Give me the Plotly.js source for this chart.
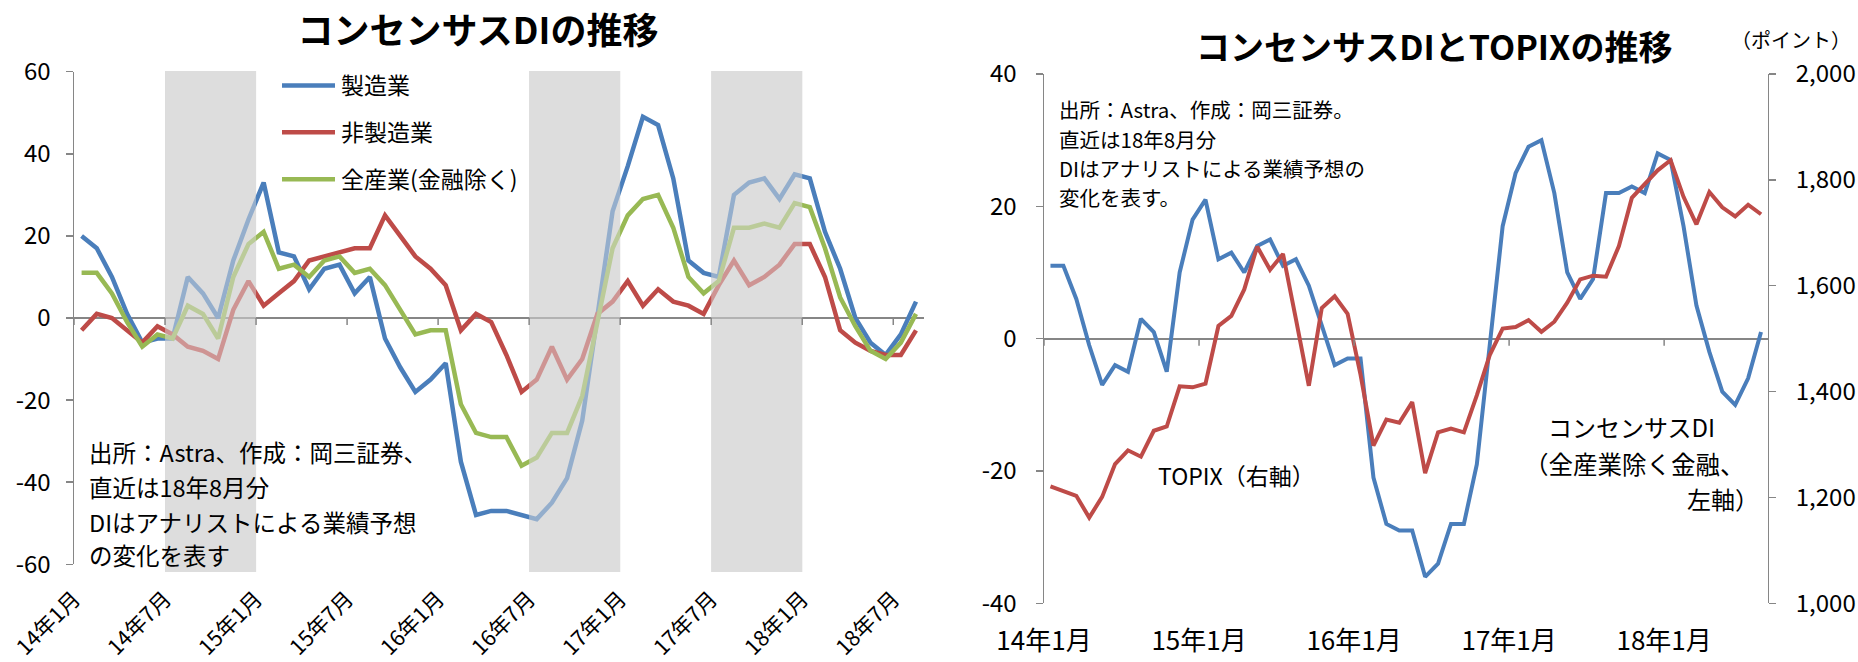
<!DOCTYPE html>
<html><head><meta charset="utf-8">
<script src="https://cdn.plot.ly/plotly-3.0.1.min.js"></script>
<style>html,body{margin:0;padding:0;background:#fff}#chart{width:1858px;height:662px}</style>
</head><body><div id="chart"></div>
<script>
// ---------- data ----------
const months = [
  '14年1月','14年2月','14年3月','14年4月','14年5月','14年6月','14年7月','14年8月','14年9月','14年10月','14年11月','14年12月',
  '15年1月','15年2月','15年3月','15年4月','15年5月','15年6月','15年7月','15年8月','15年9月','15年10月','15年11月','15年12月',
  '16年1月','16年2月','16年3月','16年4月','16年5月','16年6月','16年7月','16年8月','16年9月','16年10月','16年11月','16年12月',
  '17年1月','17年2月','17年3月','17年4月','17年5月','17年6月','17年7月','17年8月','17年9月','17年10月','17年11月','17年12月',
  '18年1月','18年2月','18年3月','18年4月','18年5月','18年6月','18年7月','18年8月'
];
const manufacturing = [
  20, 17, 10, 1, -6, -5, -5, 10, 6, 0, 14, 24,
  33, 16, 15, 7, 12, 13, 6, 10, -5, -12, -18, -15,
  -11, -35, -48, -47, -47, -48, -49, -45, -39, -25, 0, 26,
  37, 49, 47, 34, 14, 11, 10, 30, 33, 34, 29, 35,
  34, 21, 12, 0, -6, -9, -4, 4
];
const nonManufacturing = [
  -3, 1, 0, -3, -6, -2, -4, -7, -8, -10, 2, 9,
  3, 6, 9, 14, 15, 16, 17, 17, 25, 20, 15, 12,
  8, -3, 1, -1, -9, -18, -15, -7, -15, -10, 1, 4,
  9, 3, 7, 4, 3, 1, 8, 14, 8, 10, 13, 18,
  18, 10, -3, -6, -8, -9, -9, -3
];
const allIndustries = [
  11, 11, 6, -1, -7, -4, -5, 3, 1, -5, 10, 18,
  21, 12, 13, 10, 14, 15, 11, 12, 8, 2, -4, -3,
  -3, -21, -28, -29, -29, -36, -34, -28, -28, -19, -1, 17,
  25, 29, 30, 22, 10, 6, 9, 22, 22, 23, 22, 28,
  27, 17, 5, -2, -8, -10, -6, 1
];
const topix = [
  1221, 1212, 1203, 1162, 1201, 1263, 1289, 1277, 1326, 1334, 1410, 1408,
  1415, 1524, 1543, 1593, 1674, 1630, 1660, 1537, 1411, 1558, 1580, 1547,
  1432, 1298, 1347, 1341, 1380, 1246, 1323, 1330, 1323, 1393, 1469, 1519,
  1522, 1535, 1513, 1532, 1568, 1612, 1619, 1617, 1675, 1766, 1792, 1818,
  1837, 1768, 1716, 1777, 1748, 1731, 1753, 1735
];
const seriesNames = ['製造業', '非製造業', '全産業(金融除く)'];
const leftTickLabels = ['14年1月','14年7月','15年1月','15年7月','16年1月','16年7月','17年1月','17年7月','18年1月','18年7月'];
const rightTickLabels = ['14年1月','15年1月','16年1月','17年1月','18年1月'];
const leftYTicks = [-60, -40, -20, 0, 20, 40, 60];
const rightYTicks = [-40, -20, 0, 20, 40];
const topixTicks = [1000, 1200, 1400, 1600, 1800, 2000];
const shadedPeriods = [['14年7月','14年12月'], ['16年7月','16年12月'], ['17年7月','17年12月']];
const notesLeft = ['出所：Astra、作成：岡三証券、', '直近は18年8月分', 'DIはアナリストによる業績予想', 'の変化を表す'];
const notesRight = ['出所：Astra、作成：岡三証券。', '直近は18年8月分', 'DIはアナリストによる業績予想の', '変化を表す。'];

// ---------- layout helpers ----------
const W = 1858, H = 662;
const fx = px => px / W;
const fy = py => 1 - py / H;
const FONT = '"Noto Sans CJK JP", "Noto Sans", sans-serif';
const BLUE = '#4A7EBB', RED = '#BE4B48', GREEN = '#98B954';
const AXIS = '#868686';

const xPos = months.map((m, i) => i + 0.5);                          // category centres
const leftTickVals = leftTickLabels.map(t => months.indexOf(t));     // category boundaries
const rightTickVals = rightTickLabels.map(t => months.indexOf(t));

const data = [
  {x: xPos, y: manufacturing, name: seriesNames[0], type: 'scatter', mode: 'lines',
   line: {color: BLUE, width: 4.5}, xaxis: 'x', yaxis: 'y', legendgroup: 'a'},
  {x: xPos, y: nonManufacturing, name: seriesNames[1], type: 'scatter', mode: 'lines',
   line: {color: RED, width: 4.5}, xaxis: 'x', yaxis: 'y', legendgroup: 'b'},
  {x: xPos, y: allIndustries, name: seriesNames[2], type: 'scatter', mode: 'lines',
   line: {color: GREEN, width: 4.5}, xaxis: 'x', yaxis: 'y', legendgroup: 'c'},
  {x: xPos, y: allIndustries, name: 'コンセンサスDI（全産業除く金融、左軸）', type: 'scatter', mode: 'lines',
   line: {color: BLUE, width: 4}, xaxis: 'x2', yaxis: 'y2', showlegend: false},
  {x: xPos, y: topix, name: 'TOPIX（右軸）', type: 'scatter', mode: 'lines',
   line: {color: RED, width: 4}, xaxis: 'x2', yaxis: 'y3', showlegend: false}
];

const baseY = {
  showline: true, linecolor: AXIS, linewidth: 1.5, ticks: 'outside', ticklen: 7,
  tickcolor: AXIS, tickwidth: 1.5, showgrid: false, fixedrange: true,
  tickfont: {family: FONT, size: 24, color: '#000'}
};

const shapes = [];
shadedPeriods.forEach(([s, e]) => {
  const x0 = months.indexOf(s), x1 = months.indexOf(e) + 1;
  shapes.push({type: 'rect', xref: 'x', yref: 'paper', x0: x0, x1: x1, y0: fy(572), y1: fy(71),
               fillcolor: '#DCDCDC', line: {width: 0}, layer: 'below'});
  shapes.push({type: 'rect', xref: 'x', yref: 'paper', x0: x0, x1: x1, y0: fy(572), y1: fy(71),
               fillcolor: 'rgba(222,222,222,0.5)', line: {width: 0}, layer: 'above'});
});
leftTickVals.forEach(v => shapes.push({type: 'line', xref: 'x', yref: 'y', x0: v, x1: v,
  ysizemode: 'pixel', yanchor: 0, y0: 0, y1: -7, line: {color: AXIS, width: 1.5}, layer: 'above'}));
rightTickVals.forEach(v => shapes.push({type: 'line', xref: 'x2', yref: 'y2', x0: v, x1: v,
  ysizemode: 'pixel', yanchor: 0, y0: 0, y1: -7, line: {color: AXIS, width: 1.5}, layer: 'above'}));

const ann = (text, x, y, size, xanchor, weight) => ({
  text: text, xref: 'paper', yref: 'paper', x: fx(x), y: fy(y), xanchor: xanchor || 'left',
  yanchor: 'middle', showarrow: false, font: {family: FONT, size: size, color: '#000', weight: weight || 400}
});

const annotations = [];
annotations.push(ann('コンセンサスDIとTOPIXの推移', 1434, 46, 34, 'center', 700));
annotations.push(ann('（ポイント）', 1791, 39, 20, 'center'));
const leftNoteY = [451.7, 486.7, 521.7, 555];
notesLeft.forEach((t, i) => annotations.push(ann(t, 87, leftNoteY[i], 23.5, 'left')));
const rightNoteY = [109, 139, 168.3, 196.7];
notesRight.forEach((t, i) => annotations.push(ann(t, 1057, rightNoteY[i], 20.5, 'left')));
annotations.push(ann('TOPIX（右軸）', 1156, 475, 23, 'left'));
annotations.push(ann('コンセンサスDI', 1631, 426.7, 24, 'center'));
annotations.push(ann('（全産業除く金融、', 1634, 463.3, 24.5, 'center'));
annotations.push(ann('左軸）', 1761, 498.3, 24, 'right'));

const layout = {
  width: W, height: H, autosize: false,
  margin: {l: 0, r: 0, t: 0, b: 0},
  paper_bgcolor: '#fff', plot_bgcolor: 'rgba(0,0,0,0)',
  font: {family: FONT, color: '#000'},
  title: {text: 'コンセンサスDIの推移', x: fx(478), y: fy(31), xanchor: 'center', yanchor: 'middle',
          xref: 'paper', yref: 'paper',
          font: {family: FONT, size: 36, color: '#000', weight: 700}},
  showlegend: true,
  legend: {x: fx(277), y: fy(64), xanchor: 'left', yanchor: 'top', bgcolor: 'rgba(0,0,0,0)',
           borderwidth: 0, font: {family: FONT, size: 23, color: '#000'},
           traceorder: 'grouped', tracegroupgap: 14, itemwidth: 54},
  xaxis: {domain: [fx(74), fx(923.6)], range: [0, 56], anchor: 'y',
          tickvals: leftTickVals, ticktext: leftTickLabels, tickangle: -45, ticks: '',
          showline: false, showgrid: false, zeroline: false,
          tickfont: {family: FONT, size: 21.5, color: '#000'}, ticklabelstandoff: 17, fixedrange: true},
  yaxis: Object.assign({}, baseY, {domain: [fy(564.3), fy(71.7)], range: [-60, 60], anchor: 'x',
          tickvals: leftYTicks, ticktext: leftYTicks.map(String),
          zeroline: true, zerolinecolor: AXIS, zerolinewidth: 2, ticklabelstandoff: 10}),
  xaxis2: {domain: [fx(1044), fx(1767.5)], range: [0, 56], anchor: 'y2',
          tickvals: rightTickVals, ticktext: rightTickLabels, tickangle: 0, ticks: '',
          showline: false, showgrid: false, zeroline: false,
          tickfont: {family: FONT, size: 26, color: '#000'}, ticklabelstandoff: 20, fixedrange: true},
  yaxis2: Object.assign({}, baseY, {domain: [fy(603.3), fy(74)], range: [-40, 40], anchor: 'x2',
          tickvals: rightYTicks, ticktext: rightYTicks.map(String),
          zeroline: true, zerolinecolor: AXIS, zerolinewidth: 2, ticklabelstandoff: 14}),
  yaxis3: Object.assign({}, baseY, {overlaying: 'y2', side: 'right', anchor: 'x2', range: [1000, 2000],
          tickvals: topixTicks, tickformat: ',', zeroline: false, ticklabelstandoff: 15,
          tickfont: {family: FONT, size: 24, color: '#000'}}),
  shapes: shapes,
  annotations: annotations
};

Plotly.newPlot('chart', data, layout, {displayModeBar: false, staticPlot: true}).then(gd => {
  // longer legend line samples, as in the original
  gd.querySelectorAll('.legend .legendlines path').forEach(p => p.setAttribute('d', 'M5,0h53'));
});
</script>
</body></html>
